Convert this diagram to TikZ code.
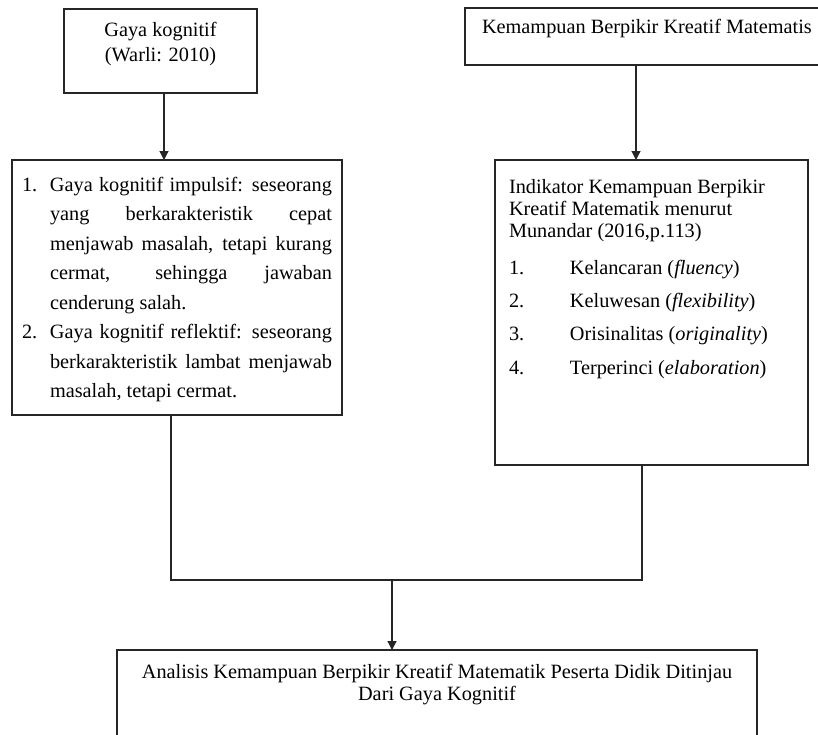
\documentclass[tikz,border=0pt]{standalone}
\usepackage{fontspec}
\setmainfont{Liberation Serif}
\usetikzlibrary{arrows.meta}
\begin{document}
\begin{tikzpicture}[x=1pt,y=-1pt,
  box/.style={draw=black!85, line width=1.2pt, anchor=north west, inner sep=0pt, outer sep=0pt},
  txt/.style={inner sep=0pt, outer sep=0pt, font=\fontsize{20.3}{23}\selectfont},
  arr/.style={draw=black!85, line width=1.2pt, -{Triangle[length=9pt,width=9pt]}},
  con/.style={draw=black!85, line width=1.2pt}]
\useasboundingbox (0,0) rectangle (818,734);
\begin{scope}
\clip (0,0) rectangle (818,734);
% boxes
\node[box, minimum width=193pt, minimum height=84pt] (A) at (64,9) {};
\node[box, minimum width=400pt, minimum height=57pt] (D) at (465,8) {};
\node[box, minimum width=330pt, minimum height=255pt] (B) at (12,160) {};
\node[box, minimum width=313pt, minimum height=305pt] (C) at (495,160) {};
\node[box, minimum width=640pt, minimum height=150pt] (E) at (117,650) {};
% texts
\node[txt, anchor=base] (a1) at (160.5,36) {Gaya kognitif};
\node[txt, anchor=base] (a2) at (160.5,61) {(Warli: 2010)};
\node[txt, anchor=base west] (d1) at (482,33) {Kemampuan Berpikir Kreatif Matematis};
\node[txt, anchor=north west] (b1) at (22,177) {%
\begin{minipage}{310pt}\fontsize{20.3}{29.5}\selectfont
\setlength{\parindent}{0pt}\hbadness=10000
\hangindent=28pt\hangafter=1
\makebox[28pt][l]{1.}Gaya kognitif impulsif: seseorang\linebreak yang berkarakteristik cepat\linebreak menjawab masalah, tetapi kurang\linebreak cermat, sehingga jawaban\linebreak cenderung salah.\par
\hangindent=28pt\hangafter=1
\makebox[28pt][l]{2.}Gaya kognitif reflektif: seseorang\linebreak berkarakteristik lambat menjawab\linebreak masalah, tetapi cermat.\par
\end{minipage}};
\node[txt, anchor=base west] (c1) at (509,193) {Indikator Kemampuan Berpikir};
\node[txt, anchor=base west] (c2) at (509,215) {Kreatif Matematik menurut};
\node[txt, anchor=base west] (c3) at (509,237) {Munandar (2016,p.113)};
\node[txt, anchor=base west] (c4) at (509,274) {\makebox[61pt][l]{1.}Kelancaran (\textit{fluency})};
\node[txt, anchor=base west] (c5) at (509,307) {\makebox[61pt][l]{2.}Keluwesan (\textit{flexibility})};
\node[txt, anchor=base west] (c6) at (509,340) {\makebox[61pt][l]{3.}Orisinalitas (\textit{originality})};
\node[txt, anchor=base west] (c7) at (509,374) {\makebox[61pt][l]{4.}Terperinci (\textit{elaboration})};
\node[txt, anchor=base] (e1) at (437,678) {Analisis Kemampuan Berpikir Kreatif Matematik Peserta Didik Ditinjau};
\node[txt, anchor=base] (e2) at (437,700) {Dari Gaya Kognitif};
% connectors
\coordinate (xa) at (164,0);
\coordinate (xd) at (636,0);
\coordinate (xl) at (171,0);
\coordinate (xr) at (642,0);
\coordinate (xm) at (392,0);
\coordinate (jn) at (0,580);
\draw[arr] (A.south -| xa) -- (B.north -| xa);
\draw[arr] (D.south -| xd) -- (C.north -| xd);
\draw[con] (B.south -| xl) -- (xl |- jn) -- (xr |- jn) -- (C.south -| xr);
\draw[arr] (xm |- jn) -- (E.north -| xm);
\end{scope}
\end{tikzpicture}
\end{document}
